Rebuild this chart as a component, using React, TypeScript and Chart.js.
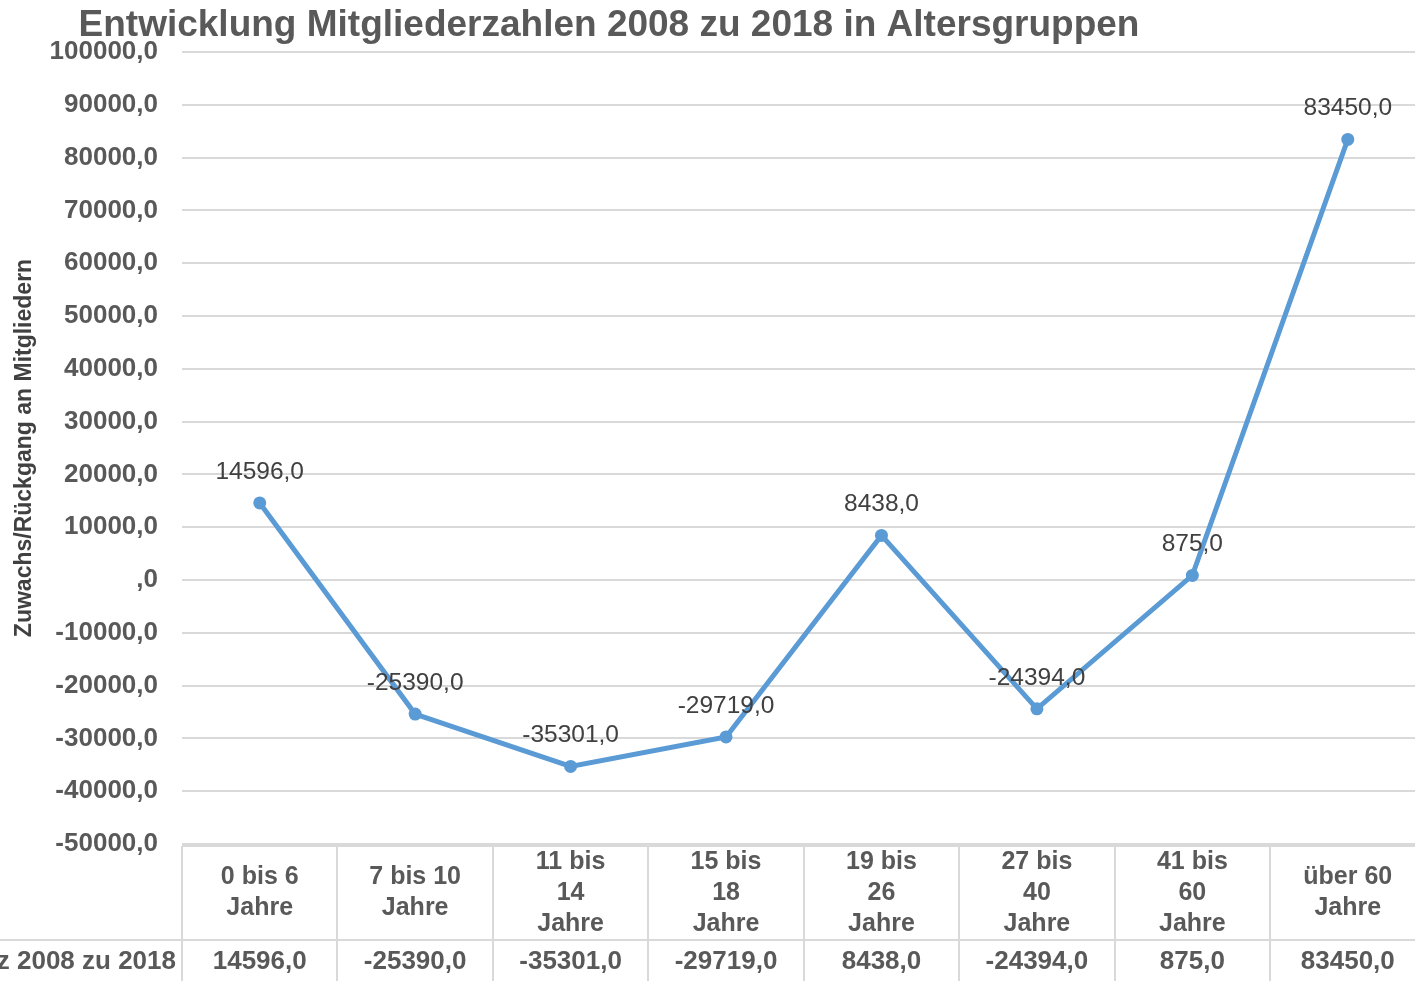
import React, { useEffect, useRef } from "react";
import { Chart, registerables } from "chart.js";
Chart.register(...registerables);

const CATEGORIES: string[][] = [
  ["0 bis 6", "Jahre"],
  ["7 bis 10", "Jahre"],
  ["11 bis", "14", "Jahre"],
  ["15 bis", "18", "Jahre"],
  ["19 bis", "26", "Jahre"],
  ["27 bis", "40", "Jahre"],
  ["41 bis", "60", "Jahre"],
  ["über 60", "Jahre"],
];
const VALUES: number[] = [14596, -25390, -35301, -29719, 8438, -24394, 875, 83450];
const SERIES_NAME = "Differenz 2008 zu 2018";
const TITLE = "Entwicklung Mitgliederzahlen 2008 zu 2018 in Altersgruppen";
const Y_TITLE = "Zuwachs/Rückgang an Mitgliedern";
const Y_MIN = -50000;
const Y_MAX = 100000;
const Y_STEP = 10000;

const FONT = "'Liberation Sans', Arial, sans-serif";
const W = 1432;
const H = 981;

const fmt = (v: number): string => {
  if (v === 0) return ",0";
  return v.toFixed(1).replace(".", ",");
};

const overlayPlugin = {
  id: "overlay",
  afterDraw(chart: any) {
    const ctx: CanvasRenderingContext2D = chart.ctx;
    const area = chart.chartArea;
    const n = CATEGORIES.length;
    const band = (area.right - area.left) / n;
    ctx.save();

    // Title
    ctx.fillStyle = "#595959";
    ctx.font = `bold 37px ${FONT}`;
    ctx.textAlign = "center";
    ctx.textBaseline = "alphabetic";
    ctx.fillText(TITLE, 609, 36);

    // Y title
    ctx.save();
    ctx.translate(25, (area.top + area.bottom) / 2);
    ctx.rotate(-Math.PI / 2);
    ctx.fillStyle = "#404040";
    ctx.font = `bold 23px ${FONT}`;
    ctx.textAlign = "center";
    ctx.textBaseline = "middle";
    ctx.fillText(Y_TITLE, 0, 0);
    ctx.restore();

    // Data labels
    const meta = chart.getDatasetMeta(0);
    ctx.fillStyle = "#404040";
    ctx.font = `24.5px ${FONT}`;
    ctx.textAlign = "center";
    ctx.textBaseline = "middle";
    meta.data.forEach((pt: any, i: number) => {
      ctx.fillText(fmt(VALUES[i]), pt.x, pt.y - 31);
    });

    // Data table
    const tTop = area.bottom + 2;
    const tMid = 940;
    const tBottom = H + 10;
    ctx.strokeStyle = "#d9d9d9";
    ctx.lineWidth = 2;
    ctx.beginPath();
    ctx.moveTo(area.left, tTop);
    ctx.lineTo(area.right + 2, tTop);
    ctx.moveTo(-200, tMid);
    ctx.lineTo(area.right + 2, tMid);
    for (let i = 0; i <= n; i++) {
      const x = Math.round(area.left + i * band);
      ctx.moveTo(x, tTop);
      ctx.lineTo(x, tBottom);
    }
    ctx.stroke();

    ctx.fillStyle = "#595959";
    ctx.font = `bold 25px ${FONT}`;
    ctx.textAlign = "center";
    ctx.textBaseline = "middle";
    const lh = 31;
    const headCenter = (tTop + tMid) / 2;
    CATEGORIES.forEach((lines, i) => {
      const cx = area.left + (i + 0.5) * band;
      const y0 = headCenter - ((lines.length - 1) * lh) / 2;
      lines.forEach((ln, j) => ctx.fillText(ln, cx, y0 + j * lh));
    });
    ctx.font = `bold 26px ${FONT}`;
    CATEGORIES.forEach((_, i) => {
      const cx = area.left + (i + 0.5) * band;
      ctx.fillText(fmt(VALUES[i]), cx, 962);
    });
    ctx.textAlign = "right";
    ctx.fillText(SERIES_NAME, area.left - 6, 962);

    ctx.restore();
  },
};

export default function App() {
  const ref = useRef<HTMLCanvasElement | null>(null);
  useEffect(() => {
    document.body.style.margin = "0";
    if (!ref.current) return;
    const chart = new Chart(ref.current, {
      type: "line",
      data: {
        labels: CATEGORIES.map((l) => l.join(" ")),
        datasets: [
          {
            label: SERIES_NAME,
            data: VALUES,
            borderColor: "#5b9bd5",
            backgroundColor: "#5b9bd5",
            borderWidth: 5,
            pointRadius: 6.5,
            pointBackgroundColor: "#5b9bd5",
            pointBorderWidth: 0,
            tension: 0,
          },
        ],
      },
      options: {
        animation: false,
        responsive: false,
        devicePixelRatio: 1,
        layout: { padding: { top: 52, right: 1, left: 0, bottom: 0 } },
        plugins: {
          legend: { display: false },
          title: { display: false },
          tooltip: { enabled: false },
        },
        scales: {
          x: {
            type: "category",
            offset: true,
            grid: { display: false },
            border: { display: false },
            ticks: { display: false },
            afterFit: (s: any) => {
              s.height = H - 844;
            },
          },
          y: {
            min: Y_MIN,
            max: Y_MAX,
            ticks: {
              stepSize: Y_STEP,
              callback: (v: any) => fmt(Number(v)),
              font: { family: FONT, size: 26, weight: "bold" },
              color: "#595959",
              padding: 24,
            },
            grid: { color: "#d9d9d9", lineWidth: 2, drawTicks: false },
            border: { display: false },
            afterFit: (s: any) => {
              s.width = 182;
            },
          },
        },
      },
      plugins: [overlayPlugin],
    } as any);
    return () => chart.destroy();
  }, []);
  return (
    <div
      style={{
        position: "fixed",
        left: 0,
        top: 0,
        width: 1415,
        height: H,
        overflow: "hidden",
        background: "#fff",
      }}
    >
      <canvas
        ref={ref}
        width={W}
        height={H}
        style={{ display: "block", width: W, height: H }}
      />
    </div>
  );
}
